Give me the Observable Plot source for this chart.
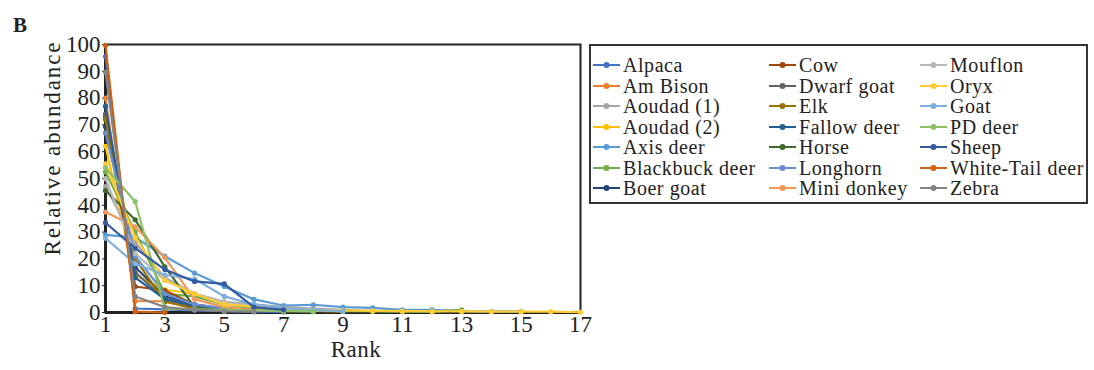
<!DOCTYPE html>
<html>
<head>
<meta charset="utf-8">
<script src="https://cdn.jsdelivr.net/npm/d3@7"></script>
<script src="https://cdn.jsdelivr.net/npm/@observablehq/plot@0.6"></script>
<style>
  body { margin: 0; background: #fff; font-family: "Liberation Serif", "Times New Roman", serif; color: #222; }
  #wrap { position: relative; width: 1094px; height: 370px; overflow: hidden; }
  #chart { position: absolute; left: 0; top: 0; }
  .panel { position: absolute; left: 13px; top: 15px; font-weight: bold; font-size: 21px; line-height: 1; }
  .ylab { position: absolute; left: 52px; top: 148px; transform: translate(-50%, -50%) rotate(-90deg); font-size: 23px; letter-spacing: 1.9px; white-space: nowrap; line-height: 1; }
  .xlab { position: absolute; left: 356px; top: 349px; transform: translate(-50%, -50%); font-size: 23px; letter-spacing: 0.5px; line-height: 1; }
  #legend { position: absolute; left: 589px; top: 44px; width: 499px; height: 160px; border: 2px solid #333; box-sizing: border-box; }
  .item { position: absolute; display: flex; align-items: center; height: 20px; font-size: 20px; letter-spacing: 0.55px; white-space: nowrap; line-height: 1; }
  .item svg { margin-right: 3px; flex: none; }
</style>
</head>
<body>
<div id="wrap">
  <div class="panel">B</div>
  <div id="chart"></div>
  <div class="ylab">Relative abundance</div>
  <div class="xlab">Rank</div>
  <div id="legend"></div>
</div>
<script>
// Rank–abundance values (%) per host species, rank 1 first
const alpaca     = [95.5, 1.5, 1.2, 0.8, 0.5, 0.3, 0.2];
const amBison    = [80, 4.3, 4.2, 1.5, 0.5];
const aoudad1    = [47, 26, 13, 7, 4, 3, 2, 1.5, 1, 0.5];
const aoudad2    = [62, 14, 8.5, 7, 3, 2, 1, 0.6, 0.4];
const axisDeer   = [29, 28, 21, 14.7, 9.7, 4.9, 2.6, 2.9, 2.0, 1.7, 1.0, 1.0, 0.5, 0.4, 0.4];
const blackbuck  = [52.4, 30, 7, 6, 3, 1.5, 1, 0.8, 0.5, 0.4, 0.3, 0.3, 1.0];
const boerGoat   = [69.4, 17, 6, 3, 1.5, 1, 0.5];
const cow        = [73, 9.7, 8.2, 3, 1, 0.5];
const dwarfGoat  = [74, 15, 5, 2, 1, 0.5];
const elk        = [72, 20, 4, 1.5, 1, 0.5];
const fallowDeer = [77, 13, 5, 2.5, 1, 0.5];
const horse      = [45.5, 34.6, 17, 2, 0.5];
const longhorn   = [67, 21, 7, 3, 1.5, 0.5];
const miniDonkey = [37.5, 32, 20.5, 5, 2, 1, 0.5];
const mouflon    = [50, 22, 12, 7, 4, 2.5, 1.5, 1, 0.5];
const oryx       = [55.5, 28, 12, 7, 3, 2.2, 1.5, 1, 0.8, 0.6, 0.5, 0.4, 0.4, 0.3, 0.3, 0.3, 0.1];
const goat       = [27.7, 18.2, 14, 12.5, 6, 3, 1.5, 1, 0.5];
const pdDeer     = [54, 41.4, 1.4, 1.2, 1, 0.8, 0.5, 0.3];
const sheep      = [33.5, 24, 16, 11.6, 10.7, 2, 1];
const whiteTail  = [99.7, 0.3, 0];
const zebra      = [89.7, 6, 2, 1, 0.5, 0.3];

const names = ["Alpaca", "Am Bison", "Aoudad (1)", "Aoudad (2)", "Axis deer", "Blackbuck deer", "Boer goat",
               "Cow", "Dwarf goat", "Elk", "Fallow deer", "Horse", "Longhorn", "Mini donkey",
               "Mouflon", "Oryx", "Goat", "PD deer", "Sheep", "White-Tail deer", "Zebra"];
const valuesList = [alpaca, amBison, aoudad1, aoudad2, axisDeer, blackbuck, boerGoat,
                    cow, dwarfGoat, elk, fallowDeer, horse, longhorn, miniDonkey,
                    mouflon, oryx, goat, pdDeer, sheep, whiteTail, zebra];
const colors = ["#4472C4", "#ED7D31", "#A5A5A5", "#FFC000", "#5B9BD5", "#70AD47", "#264478",
                "#9E480E", "#636363", "#997300", "#255E91", "#43682B", "#698ED0", "#F1975A",
                "#B7B7B7", "#FFCD33", "#7CAFDD", "#8CC168", "#335AA1", "#D26012", "#848484"];

const xTicks = [1, 3, 5, 7, 9, 11, 13, 15, 17];
const yTicks = [0, 10, 20, 30, 40, 50, 60, 70, 80, 90, 100];

const tables = names.map((name, k) => valuesList[k].map((v, i) => ({name, rank: i + 1, value: v})));

// each series draws its line then its markers, in series order
const seriesMarks = tables.flatMap(rows => [
  Plot.line(rows, {x: "rank", y: "value", stroke: "name", strokeWidth: 2.2}),
  Plot.dot(rows, {x: "rank", y: "value", fill: "name", r: 2.6})
]);

const chart = Plot.plot({
  width: 585,
  height: 370,
  marginLeft: 105,
  marginRight: 5,
  marginTop: 44,
  marginBottom: 58,
  style: {fontFamily: "Liberation Serif, Times New Roman, serif", fontSize: "23px", color: "#222", background: "transparent", overflow: "visible"},
  x: {domain: [1, 17]},
  y: {domain: [0, 100]},
  color: {domain: names, range: colors},
  marks: [
    Plot.frame({stroke: "#222", strokeWidth: 2}),
    Plot.axisY({ticks: yTicks, tickSize: 3, tickPadding: 2, label: null, fontSize: 23}),
    Plot.axisX({ticks: xTicks, tickSize: 0, tickPadding: 3, label: null, fontSize: 23}),
    Plot.ruleX([1], {stroke: "#222", strokeWidth: 3}),
    Plot.ruleY([0], {stroke: "#222", strokeWidth: 3}),
    ...seriesMarks
  ]
});
document.getElementById("chart").appendChild(chart);

// legend: three columns of seven entries
const legend = document.getElementById("legend");
const colX = [2, 178, 329];
names.forEach((name, k) => {
  const col = Math.floor(k / 7), row = k % 7;
  const item = document.createElement("div");
  item.className = "item";
  item.style.left = colX[col] + "px";
  item.style.top = (9 + row * 20.5) + "px";
  item.innerHTML = `<svg width="27" height="10"><line x1="0" x2="27" y1="5" y2="5" stroke="${colors[k]}" stroke-width="2"/><circle cx="13.5" cy="5" r="3" fill="${colors[k]}"/></svg><span>${name}</span>`;
  legend.appendChild(item);
});
</script>
</body>
</html>
